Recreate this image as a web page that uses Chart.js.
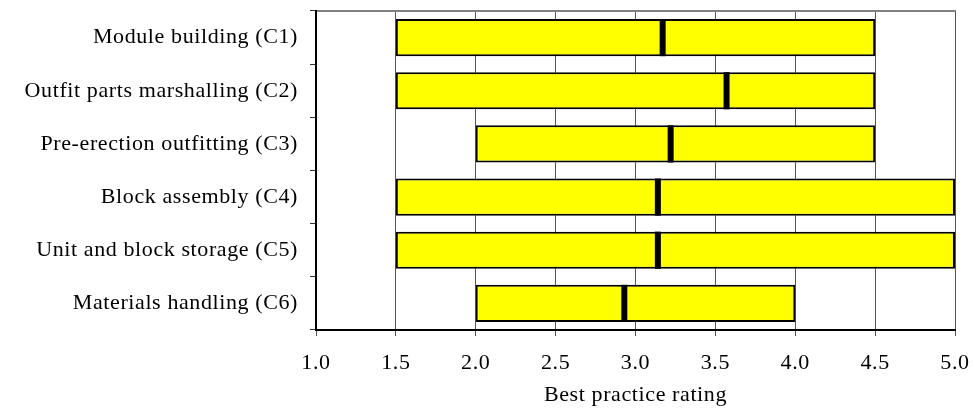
<!DOCTYPE html>
<html>
<head>
<meta charset="utf-8">
<script src="https://cdn.jsdelivr.net/npm/chart.js@4/dist/chart.umd.min.js"></script>
<style>
  html, body { margin: 0; padding: 0; background: #fff; }
  #wrap { width: 974px; height: 418px; }
</style>
</head>
<body>
<div id="wrap"><canvas id="myChart" width="974" height="418"></canvas></div>
<script>
var categories = ['Module building (C1)', 'Outfit parts marshalling (C2)', 'Pre-erection outfitting (C3)',
    'Block assembly (C4)', 'Unit and block storage (C5)', 'Materials handling (C6)'];
var minRating = [1.5, 1.5, 2.0, 1.5, 1.5, 2.0];
var maxRating = [4.5, 4.5, 4.5, 5.0, 5.0, 4.0];
var meanRating = [3.17, 3.57, 3.22, 3.14, 3.14, 2.93];
var xTicks = [1.0, 1.5, 2.0, 2.5, 3.0, 3.5, 4.0, 4.5, 5.0];

var serif = "'Liberation Serif', 'DejaVu Serif', serif";

// black mean marker drawn over each bar
var meanMarks = {
    id: 'meanMarks',
    beforeUpdate: function (chart) {
        chart.ctx.letterSpacing = '0.6px';
    },
    beforeDraw: function (chart) {
        chart.ctx.letterSpacing = '0.6px';
    },
    afterDatasetsDraw: function (chart) {
        var c = chart.ctx;
        var x = chart.scales.x;
        var meta = chart.getDatasetMeta(0);
        c.save();
        c.fillStyle = '#000';
        meta.data.forEach(function (bar, i) {
            var px = x.getPixelForValue(meanRating[i]);
            c.fillRect(px - 3, bar.y - bar.height / 2, 6, bar.height);
        });
        c.restore();
    }
};

var ctx = document.getElementById('myChart').getContext('2d');
var myChart = new Chart(ctx, {
    type: 'bar',
    data: {
        labels: categories,
        datasets: [{
            data: minRating.map(function (v, i) { return [v, maxRating[i]]; }),
            backgroundColor: '#ffff00',
            borderColor: '#000',
            borderWidth: 2,
            borderSkipped: false,
            barPercentage: 0.7,
            categoryPercentage: 1.0
        }]
    },
    options: {
        indexAxis: 'y',
        responsive: false,
        animation: false,
        layout: { padding: { top: 10, right: 19, bottom: 0, left: 0 } },
        plugins: {
            legend: { display: false },
            tooltip: { enabled: false }
        },
        scales: {
            x: {
                min: 1, max: 5,
                afterBuildTicks: function (s) { s.ticks = xTicks.map(function (v) { return { value: v }; }); },
                afterFit: function (s) { s.height = 88; s.paddingLeft = 0; s.paddingRight = 0; },
                grid: { color: '#555', lineWidth: 1, tickLength: 6, tickColor: '#555' },
                border: { color: '#000', width: 2 },
                ticks: {
                    color: '#000',
                    font: { family: serif, size: 22 },
                    padding: 14,
                    callback: function (v) { return Number(v).toFixed(1); }
                },
                title: {
                    display: true,
                    text: 'Best practice rating',
                    color: '#000',
                    font: { family: serif, size: 22 },
                    padding: { top: 0, bottom: 10 }
                }
            },
            // grey top border of the plot area
            xTop: {
                position: 'top',
                axis: 'x',
                min: 1, max: 5,
                afterFit: function (s) { s.height = 1; s.paddingLeft = 0; s.paddingRight = 0; },
                grid: { display: false },
                border: { display: true, color: '#808080', width: 2 },
                ticks: { display: false }
            },
            y: {
                afterFit: function (s) { s.width = 316; s.paddingTop = 0; s.paddingBottom = 0; },
                grid: { offset: true, drawOnChartArea: false, tickLength: 6, color: '#333' },
                border: { color: '#000', width: 2 },
                ticks: {
                    color: '#000',
                    font: { family: serif, size: 22 },
                    padding: 12
                }
            }
        }
    },
    plugins: [meanMarks]
});
</script>
</body>
</html>
